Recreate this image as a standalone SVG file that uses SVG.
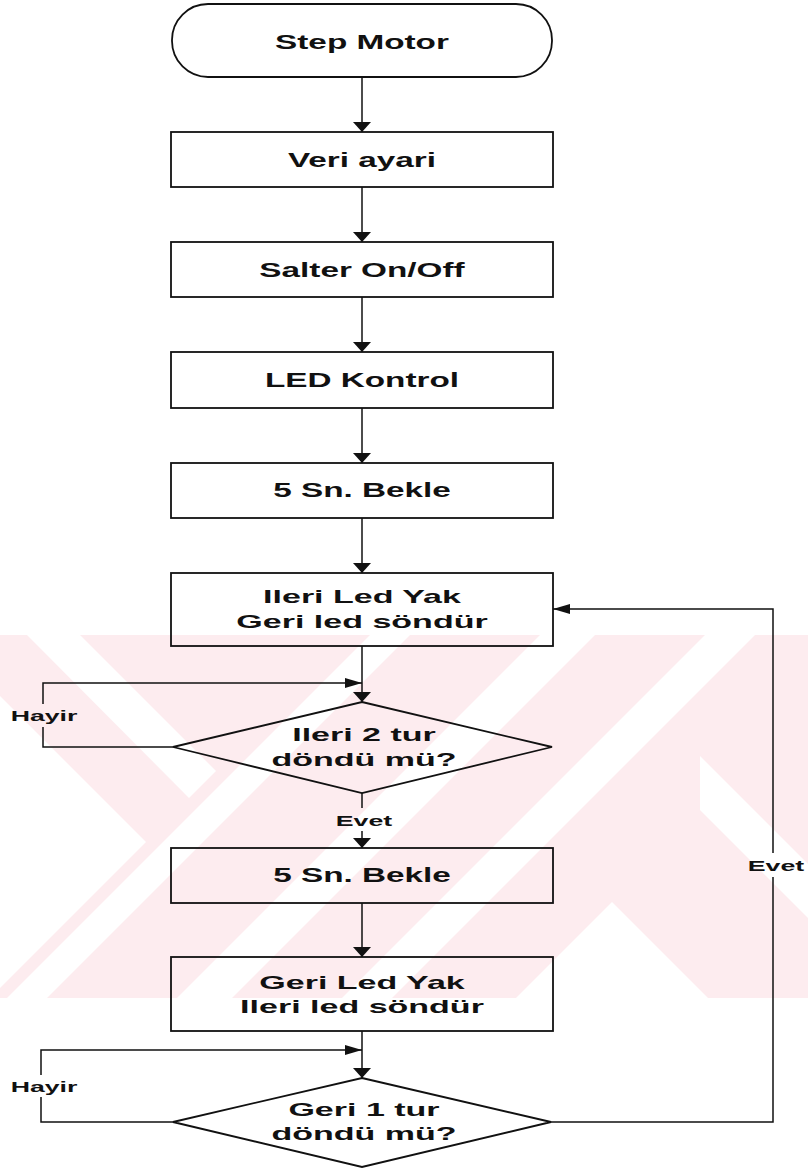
<svg xmlns="http://www.w3.org/2000/svg" width="808" height="1170" viewBox="0 0 808 1170">
<defs>
<style>
.shape{fill:none;stroke:#111;stroke-width:1.8}
.conn{fill:none;stroke:#111;stroke-width:1.5}
.t{font-family:"Liberation Sans",Arial,sans-serif;font-weight:bold;fill:#111;text-anchor:middle}
.t1{font-size:21px}
.t2{font-size:18px}
.lbl{font-size:15px}
.wm{fill:#fdecef}
.wc{fill:#ffffff}
</style>
<marker id="av" markerUnits="userSpaceOnUse" markerWidth="12" markerHeight="20" viewBox="0 -10 12 20" refX="10" refY="0" orient="auto"><path d="M0,-9 L10,0 L0,9 z" fill="#111"/></marker>
<marker id="ah" markerUnits="userSpaceOnUse" markerWidth="18" markerHeight="12" viewBox="0 -6 18 12" refX="17" refY="0" orient="auto"><path d="M0,-5 L17,0 L0,5 z" fill="#111"/></marker>
<clipPath id="band"><rect x="0" y="635" width="808" height="363"/></clipPath>
</defs>
<rect x="0" y="0" width="808" height="1170" fill="#ffffff"/>
<g id="watermark" clip-path="url(#band)">
<rect class="wm" x="0" y="635" width="808" height="363"/>
<polygon class="wc" points="27,635 80,635 216,771 189,798"/>
<polygon class="wc" points="0,696 146,842 0,988"/>
<polygon class="wc" points="370,635 410,635 47,998 7,998"/>
<polygon class="wc" points="540,635 595,635 232,998 177,998"/>
<polygon class="wc" points="705,635 755,635 392,998 342,998"/>
<polygon class="wc" points="612,902 708,998 516,998"/>
<polygon class="wc" points="700,756 808,864 808,918 700,810"/>
</g>
<g id="connectors">
<line class="conn" x1="362" y1="77" x2="362" y2="132" marker-end="url(#av)"/>
<line class="conn" x1="362" y1="187" x2="362" y2="242" marker-end="url(#av)"/>
<line class="conn" x1="362" y1="297" x2="362" y2="352" marker-end="url(#av)"/>
<line class="conn" x1="362" y1="408" x2="362" y2="463" marker-end="url(#av)"/>
<line class="conn" x1="362" y1="518" x2="362" y2="573" marker-end="url(#av)"/>
<line class="conn" x1="362" y1="646" x2="362" y2="702" marker-end="url(#av)"/>
<polyline class="conn" points="173,747 43,747 43,727"/>
<polyline class="conn" points="43,704 43,683 362,683" marker-end="url(#ah)"/>
<line class="conn" x1="362" y1="793" x2="362" y2="808"/>
<line class="conn" x1="362" y1="831" x2="362" y2="848" marker-end="url(#av)"/>
<line class="conn" x1="362" y1="903" x2="362" y2="957" marker-end="url(#av)"/>
<line class="conn" x1="362" y1="1031" x2="362" y2="1078" marker-end="url(#av)"/>
<polyline class="conn" points="173,1122 41,1122 41,1097"/>
<polyline class="conn" points="41,1075 41,1050 362,1050" marker-end="url(#ah)"/>
<polyline class="conn" points="551,1122 773,1122 773,877"/>
<polyline class="conn" points="773,853 773,609 553,609" marker-end="url(#ah)"/>
<text class="t lbl" transform="translate(44,721) scale(1.78,1)">Hayir</text>
<text class="t lbl" transform="translate(364,826) scale(1.78,1)">Evet</text>
<text class="t lbl" transform="translate(44,1092) scale(1.78,1)">Hayir</text>
<text class="t lbl" transform="translate(776,871) scale(1.78,1)">Evet</text>
</g>
<g id="n_start">
<rect class="shape" x="172" y="4" width="380" height="73" rx="36" ry="36"/>
<text class="t t1" transform="translate(362,49) scale(1.586,1)">Step Motor</text>
</g>
<g id="n_veri">
<rect class="shape" x="171" y="132" width="382" height="55"/>
<text class="t t1" transform="translate(362,167) scale(1.586,1)">Veri ayari</text>
</g>
<g id="n_salter">
<rect class="shape" x="171" y="242" width="382" height="55"/>
<text class="t t1" transform="translate(362,277) scale(1.586,1)">Salter On/Off</text>
</g>
<g id="n_led">
<rect class="shape" x="171" y="352" width="382" height="56"/>
<text class="t t1" transform="translate(362,387) scale(1.586,1)">LED Kontrol</text>
</g>
<g id="n_bekle1">
<rect class="shape" x="171" y="463" width="382" height="55"/>
<text class="t t1" transform="translate(362,497) scale(1.586,1)">5 Sn. Bekle</text>
</g>
<g id="n_ileri">
<rect class="shape" x="171" y="573" width="382" height="73"/>
<text class="t t2" transform="translate(362,603) scale(1.89,1)">Ileri Led Yak</text>
<text class="t t2" transform="translate(362,628) scale(1.89,1)">Geri led söndür</text>
</g>
<g id="n_dec1">
<polygon class="shape" points="362,702 552,747 362,793 173,747"/>
<text class="t t2" transform="translate(364,741) scale(1.89,1)">Ileri 2 tur</text>
<text class="t t2" transform="translate(364,766) scale(1.89,1)">döndü mü?</text>
</g>
<g id="n_bekle2">
<rect class="shape" x="171" y="848" width="382" height="55"/>
<text class="t t1" transform="translate(362,882) scale(1.586,1)">5 Sn. Bekle</text>
</g>
<g id="n_geri">
<rect class="shape" x="171" y="957" width="382" height="74"/>
<text class="t t2" transform="translate(362,989) scale(1.89,1)">Geri Led Yak</text>
<text class="t t2" transform="translate(362,1013) scale(1.89,1)">Ileri led söndür</text>
</g>
<g id="n_dec2">
<polygon class="shape" points="362,1078 551,1122 362,1167 173,1122"/>
<text class="t t2" transform="translate(364,1116) scale(1.89,1)">Geri 1 tur</text>
<text class="t t2" transform="translate(364,1140) scale(1.89,1)">döndü mü?</text>
</g>
</svg>
